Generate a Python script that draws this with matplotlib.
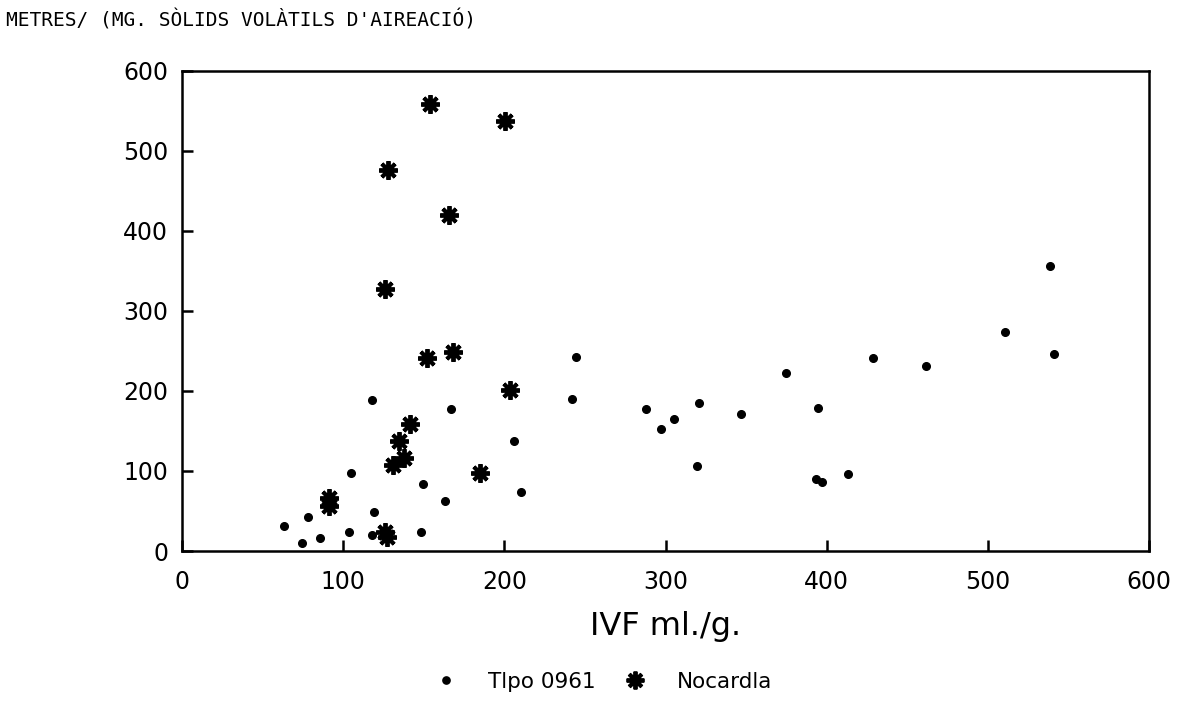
import matplotlib
import matplotlib.pyplot as plt
matplotlib.use('Agg')


# DATA

tipo_x = [63.5, 74.3, 78.3, 85.9, 103.3, 105, 118, 119.3, 117.8, 149.3, 148.3, 163.4, 166.9, 205.8,
          210.4, 241.8, 244.7, 287.8, 296.9, 305, 320.7, 319.4, 346.8, 374.5, 394.4, 393.2, 397.3,
          413, 428.8, 461.5, 510.6, 538.7, 541.2]
tipo_y = [31, 10.4, 43, 16.7, 24, 97.5, 188.7, 48.75, 20, 84, 24, 62, 177, 137,
          73.75, 189.6, 242, 177, 152, 165.4, 184.6, 106, 171.6, 223, 179, 90, 85.8,
          96, 241.7, 231, 273.4, 355.9, 245.9]

nocardia_x = [153.6, 200.6, 128.1, 165.4, 126.1, 152, 168.1, 203.3, 141.6, 134.6, 131.2, 137.9,
              184.7, 91.5, 90.9, 126.2, 127.2]
nocardia_y = [558.75, 537.5, 476, 420, 327, 240.8, 248.75, 201, 158.75, 138, 108, 116,
              97, 66.7, 56, 24, 18]

x_ticks = [0, 100, 200, 300, 400, 500, 600]
y_ticks = [0, 100, 200, 300, 400, 500, 600]

title_text = "METRES/ (MG. SÒLIDS VOLÀTILS D'AIREACIÓ)"
x_label = 'IVF ml./g.'
legend_labels = ['Tlpo 0961', 'Nocardla']

# PLOT

fig = plt.figure(figsize=(11.78, 7.03), dpi=100, facecolor='w')
ax = fig.add_axes([0.1545, 0.2162, 0.821, 0.683])

ax.plot(tipo_x, tipo_y, linestyle='none', marker='o', markersize=5.5, color='black',
        label=legend_labels[0])
ax.plot(nocardia_x, nocardia_y, linestyle='none', marker=(8, 2, 0), markersize=13.5,
        markeredgewidth=2.8, color='black', label=legend_labels[1])

ax.set_xlim(0, 600)
ax.set_ylim(0, 600)
ax.set_xticks(x_ticks)
ax.set_yticks(y_ticks)

for side in ['left', 'right', 'top', 'bottom']:
    ax.spines[side].set_linewidth(1.8)

ax.tick_params(axis='both', direction='in', length=8, width=1.8, labelsize=17)
ax.tick_params(axis='x', pad=14)
ax.tick_params(axis='y', pad=10)

ax.set_xlabel(x_label, fontsize=23, labelpad=12)

fig.text(0.005, 0.971, title_text, fontsize=14, family='DejaVu Sans Mono', va='center', ha='left')

fig.legend(loc='center', bbox_to_anchor=(0.508, 0.03), ncol=2, frameon=False, fontsize=15.5,
           handletextpad=0.95, columnspacing=0.8, markerscale=0.95)

fig.savefig('out.png', dpi=100)
plt.close(fig)
